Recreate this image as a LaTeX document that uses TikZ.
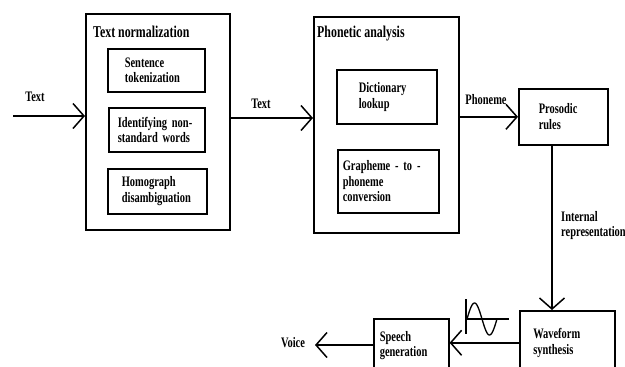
\documentclass[tikz,border=0pt]{standalone}
\usepackage{fontspec}
\setmainfont{Liberation Serif}[FakeStretch=0.72]
\usetikzlibrary{arrows.meta}
\begin{document}
\begin{tikzpicture}[x=1pt,y=-1pt,
  every node/.style={font=\bfseries\fontsize{14.5}{15.5}\selectfont},
  box/.style={draw,line width=1.6pt,rectangle,anchor=north west,inner sep=0pt,align=left},
  title/.style={font=\bfseries\fontsize{16.5}{18}\selectfont,anchor=base west,inner sep=0pt},
  lbl/.style={inner sep=0pt,align=left},
  arr/.style={line width=1.5pt,-{Straight Barb[length=11pt,width=25pt,line width=1.5pt]}},
  conn/.style={line width=1.5pt}]
\useasboundingbox (0,0) rectangle (625,367);
\clip (0,0) rectangle (625,367);
% Text normalization
\node[box,minimum width=144pt,minimum height=216pt] (tn) at (85,13) {};
\node[title] (tnt) at (93,37) {Text normalization};
\node[box,minimum width=97pt,minimum height=43pt,text width=63pt] (sent) at (107,48) {Sentence\\tokenization};
\node[box,minimum width=96pt,minimum height=44pt,text width=78pt] (ident) at (108,107) {Identifying non-\\standard words};
\node[box,minimum width=99pt,minimum height=45pt,text width=71pt] (homo) at (107,168) {Homograph\\disambiguation};
% Phonetic analysis
\node[box,minimum width=145pt,minimum height=216pt] (pa) at (313,16) {};
\node[title] (pat) at (317,37) {Phonetic analysis};
\node[box,minimum width=100pt,minimum height=54pt,text width=56pt] (dict) at (336,69) {Dictionary\\lookup};
\node[box,minimum width=101pt,minimum height=63pt,text width=91pt] (graph) at (337,149) {Grapheme - to -\\phoneme\\conversion};
% Prosodic rules
\node[box,minimum width=89pt,minimum height=56pt,text width=49pt] (pros) at (518,88) {Prosodic\\rules};
% Waveform synthesis
\node[box,minimum width=95pt,minimum height=64pt,text width=68pt] (wave) at (519,310) {Waveform\\synthesis};
% Speech generation
\node[box,minimum width=75pt,minimum height=54pt,text width=63pt] (speech) at (373,318) {Speech\\generation};
% connectors
\coordinate (inStart) at (13,116);
\draw[arr] (inStart) -- (inStart -| tn.west);
\node[lbl] (lblText1) at (35,97) {Text};
\coordinate (y1) at (0,118);
\draw[arr] (tn.east |- y1) -- (pa.west |- y1);
\node[lbl] (lblText2) at (261,104) {Text};
\draw[arr] (pa.east |- pros.west) -- (pros.west);
\node[lbl] (lblPhon) at (486,100) {Phoneme};
\coordinate (x1) at (552,0);
\draw[arr] (pros.south -| x1) -- (wave.north -| x1);
\node[lbl,anchor=north west] (lblInt) at (561,211) {Internal\\representation};
\draw[arr] (wave.west) -- (speech.east |- wave.west);
\coordinate (voiceEnd) at (315,345);
\draw[arr] (speech.west |- voiceEnd) -- (voiceEnd);
\node[lbl] (lblVoice) at (293,343) {Voice};
% sine wave symbol
\draw[line width=1.3pt] (466,299) -- (466,334);
\draw[line width=1.3pt] (466,319) -- (509,319);
\draw[line width=1.3pt] plot[domain=0:30,samples=50,smooth] ({467+\x},{319-16*sin(\x*12)});
\end{tikzpicture}
\end{document}
